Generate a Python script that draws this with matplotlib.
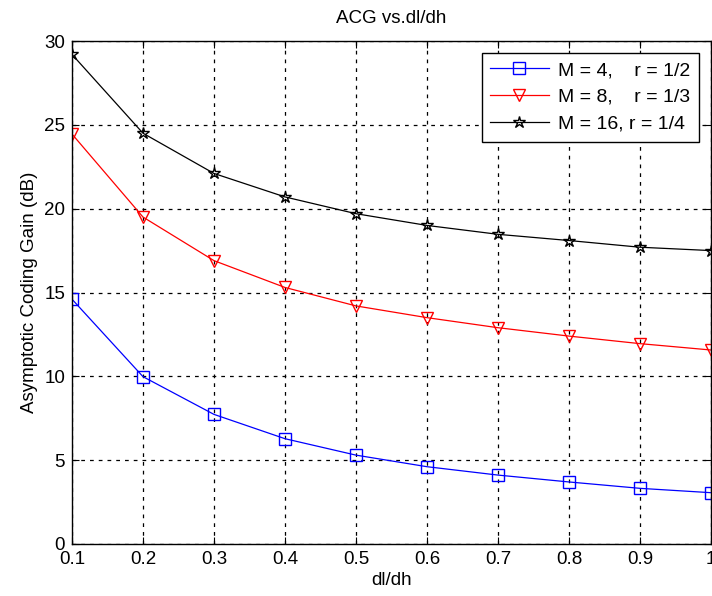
import matplotlib
matplotlib.use("Agg")
import matplotlib.pyplot as plt

plt.rcParams["font.family"] = ["Liberation Sans", "DejaVu Sans"]

# data
dl_dh = [0.1, 0.2, 0.3, 0.4, 0.5, 0.6, 0.7, 0.8, 0.9, 1.0]
acg_m4 = [14.6, 9.98, 7.73, 6.28, 5.3, 4.61, 4.11, 3.7, 3.32, 3.06]
acg_m8 = [24.45, 19.5, 16.9, 15.3, 14.2, 13.5, 12.9, 12.4, 11.95, 11.57]
acg_m16 = [29.2, 24.5, 22.1, 20.7, 19.7, 19.0, 18.47, 18.1, 17.7, 17.5]

labels = ["M = 4,    r = 1/2", "M = 8,    r = 1/3", "M = 16, r = 1/4"]
x_ticks = [0.1, 0.2, 0.3, 0.4, 0.5, 0.6, 0.7, 0.8, 0.9, 1.0]
x_ticklabels = ["0.1", "0.2", "0.3", "0.4", "0.5", "0.6", "0.7", "0.8", "0.9", "1"]
y_ticks = [0, 5, 10, 15, 20, 25, 30]

fig = plt.figure(figsize=(7.12, 5.96), dpi=100)
ax = fig.add_axes([72 / 712, 1 - 544 / 596, (711 - 72) / 712, (544 - 41) / 596])

ax.plot(dl_dh, acg_m4, color="blue", lw=0.9, marker="s", ms=8,
        mfc="none", mec="blue", mew=1.0, label=labels[0])
ax.plot(dl_dh, acg_m8, color="red", lw=0.9, marker="v", ms=9,
        mfc="none", mec="red", mew=1.0, label=labels[1])
ax.plot(dl_dh, acg_m16, color="black", lw=0.9, marker="*", ms=9,
        mfc="none", mec="black", mew=1.0, label=labels[2])

ax.set_xlim(0.1, 1.0)
ax.set_ylim(0, 30)
ax.set_xticks(x_ticks)
ax.set_xticklabels(x_ticklabels)
ax.set_yticks(y_ticks)
ax.tick_params(direction="in", top=True, right=True, labelsize=13.5, length=5, pad=5)

ax.grid(True, color="black", linestyle=(0, (3, 4)), linewidth=0.9)
for sp in ax.spines.values():
    sp.set_linewidth(1.0)

ax.set_title("ACG vs.dl/dh", fontsize=13.5, pad=13)
ax.set_xlabel("dl/dh", fontsize=13.5, labelpad=3)
ax.set_ylabel("Asymptotic Coding Gain (dB)", fontsize=13.5, labelpad=4)

leg = ax.legend(loc="upper right", fontsize=14, frameon=True, fancybox=False,
                edgecolor="black", framealpha=1, handlelength=3.0,
                borderaxespad=0.6, labelspacing=0.48, borderpad=0.45,
                handletextpad=0.5)
leg.get_frame().set_linewidth(1.0)

fig.savefig("out.png", dpi=100)
